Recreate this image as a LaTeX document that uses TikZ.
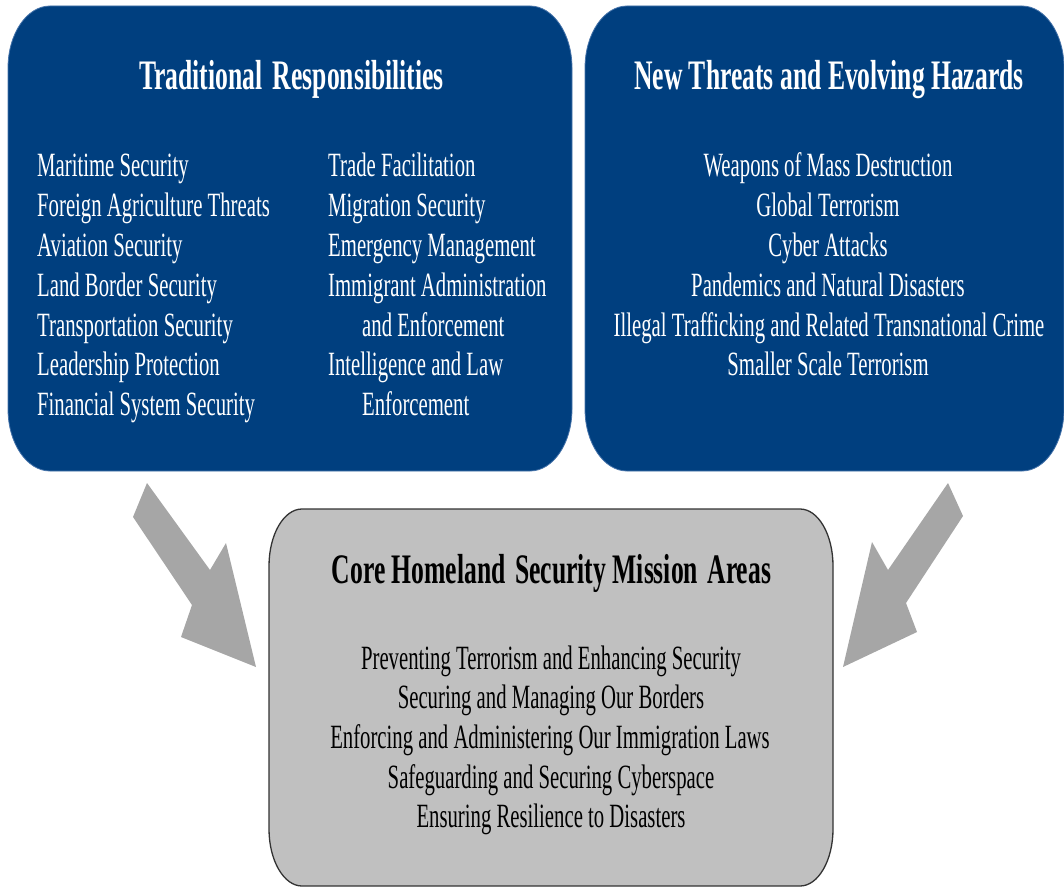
\documentclass[tikz,border=0pt]{standalone}
\usepackage{fontspec}
\setmainfont{Liberation Serif}[FakeStretch=0.61]
\definecolor{boxblue}{RGB}{0,63,127}
\definecolor{edgeblue}{RGB}{70,115,170}
\definecolor{coregray}{RGB}{192,192,192}
\definecolor{arrowgray}{RGB}{166,166,166}
\newcommand\RRbox[7]{%
 \path[#1] ({#2+#6},#3) -- ({#4-#6},#3)
  .. controls ({#4-0.448*#6},#3) and (#4,{#3+0.448*#7}) .. (#4,{#3+#7})
  -- (#4,{#5-#7})
  .. controls (#4,{#5-0.448*#7}) and ({#4-0.448*#6},#5) .. ({#4-#6},#5)
  -- ({#2+#6},#5)
  .. controls ({#2+0.448*#6},#5) and (#2,{#5-0.448*#7}) .. (#2,{#5-#7})
  -- (#2,{#3+#7})
  .. controls (#2,{#3+0.448*#7}) and ({#2+0.448*#6},#3) .. ({#2+#6},#3) -- cycle;}
\tikzset{
  bluebox/.style={fill=boxblue, draw=edgeblue, line width=0.8pt},
  graybox/.style={fill=coregray, draw=black!80, line width=1.3pt},
  bigarrow/.style={fill=arrowgray, draw=none},
  body/.style={font=\fontsize{34}{40}\selectfont, inner sep=0pt},
  head/.style={font=\fontsize{42}{48}\selectfont\bfseries, inner sep=0pt},
  wbody/.style={body, text=white},
  whead/.style={head, text=white},
  kbody/.style={body, text=black},
  khead/.style={head, text=black},
}
\begin{document}
\begin{tikzpicture}[x=1pt, y=-1pt]
\useasboundingbox (0,0) rectangle (1064,888);
% boxes
\RRbox{bluebox}{8}{6}{572}{471}{42}{62}
\RRbox{bluebox}{585}{6}{1064}{471}{42}{62}
\RRbox{graybox}{269}{509}{833}{886}{33}{57}
% arrows
\fill[bigarrow] (147,483) -- (210,570) -- (226,543) -- (256,667) -- (181,637) -- (192,605) -- (133,517) -- cycle;
\fill[bigarrow] (948,483) -- (963,516) -- (906,603) -- (917,632) -- (843,667) -- (872,542) -- (888,570) -- cycle;
% left box
\node[whead, anchor=base] (lt) at (291.5,90) {Traditional\hspace{4pt} Responsibilities};
\node[wbody, anchor=base west] (l1) at (37,176) {Maritime Security};
\node[wbody, anchor=base west] (l2) at (37,216) {Foreign Agriculture Threats};
\node[wbody, anchor=base west] (l3) at (37,256) {Aviation Security};
\node[wbody, anchor=base west] (l4) at (37,296) {Land Border Security};
\node[wbody, anchor=base west] (l5) at (37,336) {Transportation Security};
\node[wbody, anchor=base west] (l6) at (37,375) {Leadership Protection};
\node[wbody, anchor=base west] (l7) at (37,415) {Financial System Security};
\node[wbody, anchor=base west] (r1) at (328,176) {Trade Facilitation};
\node[wbody, anchor=base west] (r2) at (328,216) {Migration Security};
\node[wbody, anchor=base west] (r3) at (328,256) {Emergency Management};
\node[wbody, anchor=base west] (r4) at (328,296) {Immigrant Administration};
\node[wbody, anchor=base west] (r5) at (362,336) {and Enforcement};
\node[wbody, anchor=base west] (r6) at (328,375) {Intelligence and Law};
\node[wbody, anchor=base west] (r7) at (362,415) {Enforcement};
% right box
\node[whead, anchor=base] (nt) at (829,90) {New Threats and Evolving Hazards};
\node[wbody, anchor=base] (n1) at (828,176) {Weapons of Mass Destruction};
\node[wbody, anchor=base] (n2) at (828,216) {Global Terrorism};
\node[wbody, anchor=base] (n3) at (828,256) {Cyber Attacks};
\node[wbody, anchor=base] (n4) at (828,296) {Pandemics and Natural Disasters};
\node[wbody, anchor=base] (n5) at (829,336) {Illegal Trafficking and Related Transnational Crime};
\node[wbody, anchor=base] (n6) at (828,375) {Smaller Scale Terrorism};
% core box
\node[khead, anchor=base] (ct) at (551.5,583) {Core Homeland\hspace{3pt} Security Mission\hspace{3pt} Areas};
\node[kbody, anchor=base] (c1) at (551,669) {Preventing Terrorism and Enhancing Security};
\node[kbody, anchor=base] (c2) at (551,708.5) {Securing and Managing Our Borders};
\node[kbody, anchor=base] (c3) at (550,748) {Enforcing and Administering Our Immigration Laws};
\node[kbody, anchor=base] (c4) at (551,788) {Safeguarding and Securing Cyberspace};
\node[kbody, anchor=base] (c5) at (551,827.5) {Ensuring Resilience to Disasters};
\end{tikzpicture}
\end{document}
